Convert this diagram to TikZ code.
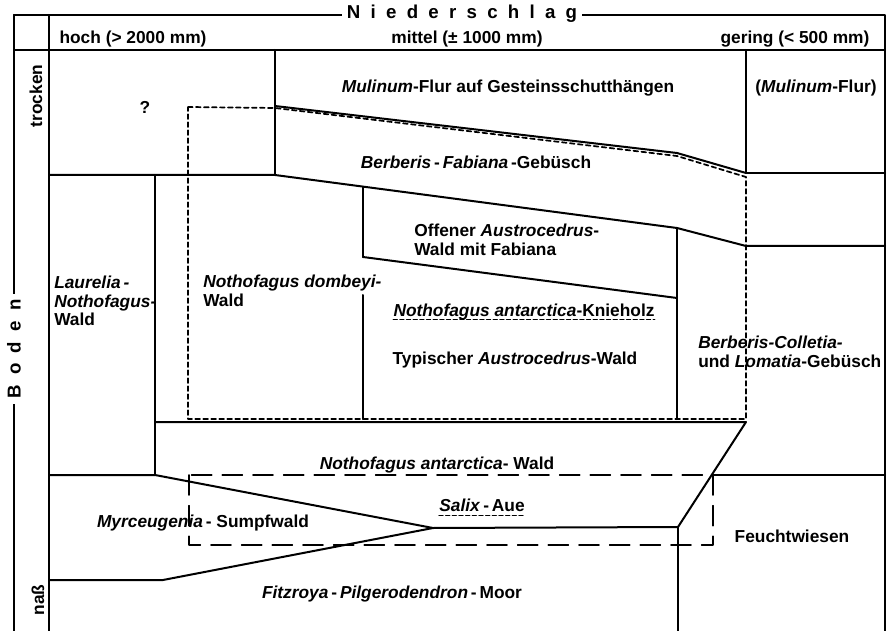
\documentclass[tikz,border=0pt]{standalone}
\usepackage{fontspec}
\setmainfont{Liberation Sans}
\usepackage{tikz}
\usetikzlibrary{calc}

\begin{document}
\begin{tikzpicture}[line cap=round,line join=round,x=0.75pt,y=-0.75pt,
  bnd/.style={line width=1.5pt},
  fdash/.style={line width=1.3pt,dash pattern=on 3.5pt off 2.5pt},
  gdash/.style={line width=1.3pt,dash pattern=on 15pt off 8pt},
  udash/.style={line width=1pt,dash pattern=on 3pt off 2pt},
  lbl/.style={font=\fontsize{13}{14}\selectfont\bfseries,inner sep=0pt},
  head/.style={font=\fontsize{14}{16}\selectfont\bfseries\addfontfeature{LetterSpace=55},fill=white,inner xsep=4pt,inner ysep=1pt}]
\useasboundingbox (0,0) rectangle (893,631);
\clip (0,0) rectangle (893,631);
% frame and header
\draw [bnd] (14,15) -- (885,15) -- (885,631);
\draw [bnd] (14,15) -- (14,631);
\draw [bnd] (49,15) -- (49,631);
\draw [bnd] (14,50) -- (885,50);
% dry row
\draw [bnd] (275,50) -- (275,175);
\draw [bnd] (746,50) -- (746,173) -- (885,173);
\draw [bnd] (275,106) -- (677,153) -- (746,173);
\draw [bnd] (49,175) -- (275,175) -- (677,228) -- (746,246) -- (885,246);
% forests
\draw [bnd] (155,175) -- (155,475);
\draw [bnd] (363,187) -- (363,257);
\draw [bnd] (363,295) -- (363,419);
\draw [bnd] (363,257) -- (677,298);
\draw [bnd] (677,228) -- (677,419);
\draw [bnd] (155,422) -- (746,422) -- (678,527) -- (433,528);
\draw [bnd] (49,475) -- (155,475) -- (433,528) -- (163,580) -- (49,580);
\draw [bnd] (712,475) -- (885,475);
\draw [bnd] (678,527) -- (678,631);
% dashed areas
\draw [fdash] (188,107) -- (275,108) -- (677,156) -- (746,177) -- (746,419) -- (188,419) -- cycle;
\draw [gdash] (189,475) rectangle (713,545);
% axis labels
\node [head] (nied) at (462,14) {Niederschlag};
\node [head,rotate=90] (boden) at (14,349) {Boden};
\node [lbl] (hoch) at (133,39) {hoch (> 2000 mm)};
\node [lbl] (mittel) at (467,39) {mittel (± 1000 mm)};
\node [lbl] (gering) at (795,39) {gering (< 500 mm)};
\node [lbl,rotate=90] (trocken) at (36,96) {trocken};
\node [lbl,rotate=90] (nass) at (38,600) {naß};
% vegetation units
\node [lbl] (frage) at (145,107) {?};
\node [lbl] (mulinum) at (508,88) {\textit{Mulinum}-Flur auf Gesteinsschutthängen};
\node [lbl] (mulinumb) at (816,88) {(\textit{Mulinum}-Flur)};
\node [lbl] (berbfab) at (476,162) {\textit{Berberis}\,-\,\textit{Fabiana}\,-Gebüsch};
\node [lbl,anchor=west,align=left] (laurelia) at (54,301) {\textit{Laurelia\,-}\\\textit{Nothofagus-}\\Wald};
\node [lbl,anchor=west,align=left] (dombeyi) at (203,291) {\textit{Nothofagus dombeyi-}\\Wald};
\node [lbl,anchor=west,align=left] (offen) at (414,240) {Offener \textit{Austrocedrus}-\\Wald mit Fabiana};
\node [lbl] (knie) at (524,312) {\textit{Nothofagus antarctica}-Knieholz};
\node [lbl] (typisch) at (515,360) {Typischer \textit{Austrocedrus}-Wald};
\node [lbl,anchor=west,align=left] (colletia) at (698,352) {\textit{Berberis-Colletia-}\\und \textit{Lomatia}-Gebüsch};
\node [lbl] (antwald) at (437,465) {\textit{Nothofagus antarctica}- Wald};
\node [lbl] (salix) at (482,505) {\textit{Salix}\,-\,Aue};
\node [lbl] (myrc) at (203,523) {\textit{Myrceugenia}\,- Sumpfwald};
\node [lbl] (feucht) at (792,536) {Feuchtwiesen};
\node [lbl] (fitz) at (392,594) {\textit{Fitzroya}\,-\,\textit{Pilgerodendron}\,-\,Moor};
% underlines
\draw [udash] ($(knie.base west)+(0,3)$) -- ($(knie.base east)+(0,3)$);
\draw [udash] ($(salix.base west)+(0,4)$) -- ($(salix.base east)+(0,4)$);
\end{tikzpicture}
\end{document}
